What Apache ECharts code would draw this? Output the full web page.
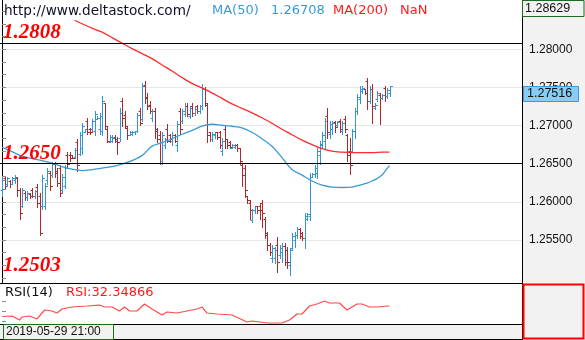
<!DOCTYPE html>
<html>
<head>
<meta charset="utf-8">
<script src="https://cdn.jsdelivr.net/npm/echarts@6/dist/echarts.min.js"></script>
<style>
  html, body { margin: 0; padding: 0; background: #f2f2f2; }
  #chart { width: 585px; height: 340px; }
</style>
</head>
<body>
<div id="chart"></div>
<script>
// GBP/USD style OHLC bars, one entry per bar (index = bar number)
const opens = [
  1.2615,1.2631,1.2624,1.2627,1.2624,1.2628,1.2631,1.2615,1.2595,1.2612,
  1.2606,1.2610,1.2616,1.2607,1.2620,1.2608,1.2595,1.2595,1.2628,1.2638,
  1.2635,1.2649,1.2641,1.2644,1.2615,1.2621,1.2661,1.2662,1.2661,1.2659,
  1.2678,1.2663,1.2670,1.2692,1.2706,1.2696,1.2696,1.2693,1.2709,1.2696,
  1.2693,1.2729,1.2696,1.2679,1.2680,1.2685,1.2683,1.2684,1.2732,1.2714,
  1.2697,1.2688,1.2689,1.2691,1.2693,1.2719,1.2709,1.2753,1.2738,1.2727,
  1.2710,1.2719,1.2695,1.2687,1.2654,1.2674,1.2696,1.2687,1.2680,1.2688,
  1.2674,1.2719,1.2706,1.2715,1.2726,1.2713,1.2725,1.2717,1.2725,1.2719,
  1.2725,1.2748,1.2727,1.2691,1.2683,1.2687,1.2691,1.2691,1.2667,1.2696,
  1.2682,1.2679,1.2671,1.2672,1.2675,1.2670,1.2648,1.2644,1.2607,1.2599,
  1.2576,1.2589,1.2594,1.2595,1.2598,1.2578,1.2557,1.2543,1.2526,1.2526,
  1.2543,1.2530,1.2534,1.2542,1.2537,1.2517,1.2539,1.2550,1.2556,1.2564,
  1.2559,1.2552,1.2578,1.2582,1.2633,1.2636,1.2638,1.2661,1.2674,1.2680,
  1.2713,1.2689,1.2696,1.2705,1.2701,1.2706,1.2693,1.2709,1.2687,1.2667,
  1.2667,1.2693,1.2719,1.2735,1.2745,1.2748,1.2759,1.2732,1.2748,1.2723,
  1.2735,1.2740,1.2736,1.2749,1.2739,1.2743
];
const highs = [
  1.2632,1.2633,1.2632,1.2628,1.2632,1.2635,1.2632,1.2618,1.2618,1.2614,
  1.2614,1.2611,1.2618,1.2615,1.2624,1.2611,1.2635,1.2625,1.2644,1.2641,
  1.2652,1.2652,1.2644,1.2648,1.2637,1.2648,1.2665,1.2665,1.2661,1.2671,
  1.2683,1.2691,1.2704,1.2696,1.2710,1.2697,1.2709,1.2719,1.2712,1.2717,
  1.2739,1.2730,1.2700,1.2687,1.2687,1.2687,1.2685,1.2723,1.2736,1.2719,
  1.2700,1.2693,1.2693,1.2693,1.2717,1.2723,1.2756,1.2759,1.2743,1.2732,
  1.2722,1.2723,1.2697,1.2693,1.2691,1.2684,1.2702,1.2689,1.2691,1.2689,
  1.2706,1.2723,1.2722,1.2729,1.2729,1.2725,1.2729,1.2725,1.2727,1.2727,
  1.2755,1.2751,1.2730,1.2692,1.2692,1.2692,1.2692,1.2693,1.2684,1.2700,
  1.2683,1.2680,1.2676,1.2676,1.2676,1.2671,1.2650,1.2648,1.2608,1.2602,
  1.2591,1.2595,1.2595,1.2598,1.2602,1.2580,1.2560,1.2546,1.2543,1.2541,
  1.2554,1.2543,1.2546,1.2546,1.2541,1.2539,1.2559,1.2560,1.2567,1.2566,
  1.2560,1.2585,1.2585,1.2638,1.2638,1.2648,1.2671,1.2680,1.2691,1.2710,
  1.2723,1.2706,1.2706,1.2706,1.2706,1.2709,1.2706,1.2713,1.2689,1.2684,
  1.2696,1.2723,1.2742,1.2752,1.2752,1.2748,1.2763,1.2752,1.2755,1.2729,
  1.2745,1.2743,1.2742,1.2752,1.2749,1.2752
];
const lows = [
  1.2608,1.2618,1.2621,1.2620,1.2623,1.2625,1.2608,1.2578,1.2593,1.2603,
  1.2603,1.2605,1.2606,1.2605,1.2593,1.2556,1.2591,1.2591,1.2623,1.2615,
  1.2632,1.2632,1.2621,1.2608,1.2611,1.2618,1.2645,1.2654,1.2657,1.2658,
  1.2641,1.2661,1.2663,1.2691,1.2689,1.2689,1.2693,1.2687,1.2708,1.2689,
  1.2687,1.2696,1.2678,1.2678,1.2679,1.2679,1.2663,1.2680,1.2700,1.2697,
  1.2683,1.2687,1.2688,1.2689,1.2691,1.2701,1.2706,1.2729,1.2722,1.2717,
  1.2706,1.2684,1.2678,1.2650,1.2650,1.2671,1.2678,1.2678,1.2674,1.2678,
  1.2667,1.2689,1.2704,1.2713,1.2713,1.2710,1.2712,1.2714,1.2717,1.2717,
  1.2722,1.2726,1.2678,1.2680,1.2680,1.2684,1.2683,1.2671,1.2661,1.2670,
  1.2671,1.2670,1.2670,1.2671,1.2667,1.2650,1.2621,1.2606,1.2598,1.2578,
  1.2573,1.2586,1.2586,1.2578,1.2567,1.2552,1.2537,1.2530,1.2521,1.2520,
  1.2508,1.2526,1.2521,1.2517,1.2513,1.2504,1.2537,1.2541,1.2552,1.2552,
  1.2550,1.2539,1.2576,1.2576,1.2632,1.2632,1.2631,1.2650,1.2671,1.2671,
  1.2684,1.2684,1.2689,1.2691,1.2700,1.2691,1.2689,1.2691,1.2654,1.2637,
  1.2665,1.2684,1.2715,1.2729,1.2743,1.2742,1.2722,1.2730,1.2704,1.2722,
  1.2732,1.2702,1.2735,1.2732,1.2736,1.2739
];
const closes = [
  1.2628,1.2621,1.2631,1.2623,1.2631,1.2632,1.2615,1.2585,1.2615,1.2606,
  1.2612,1.2607,1.2608,1.2614,1.2598,1.2559,1.2631,1.2621,1.2641,1.2621,
  1.2649,1.2638,1.2625,1.2612,1.2633,1.2644,1.2650,1.2657,1.2658,1.2668,
  1.2648,1.2687,1.2700,1.2695,1.2692,1.2691,1.2706,1.2715,1.2710,1.2713,
  1.2732,1.2700,1.2680,1.2685,1.2684,1.2680,1.2679,1.2717,1.2710,1.2700,
  1.2688,1.2692,1.2692,1.2693,1.2714,1.2704,1.2752,1.2736,1.2726,1.2719,
  1.2719,1.2693,1.2683,1.2654,1.2687,1.2683,1.2680,1.2682,1.2688,1.2680,
  1.2702,1.2696,1.2719,1.2726,1.2715,1.2723,1.2717,1.2722,1.2719,1.2725,
  1.2748,1.2729,1.2687,1.2683,1.2689,1.2691,1.2685,1.2674,1.2680,1.2683,
  1.2675,1.2672,1.2675,1.2675,1.2670,1.2654,1.2635,1.2615,1.2602,1.2589,
  1.2589,1.2594,1.2589,1.2589,1.2586,1.2559,1.2543,1.2534,1.2539,1.2537,
  1.2521,1.2539,1.2542,1.2521,1.2521,1.2537,1.2555,1.2557,1.2564,1.2555,
  1.2552,1.2581,1.2584,1.2633,1.2637,1.2645,1.2667,1.2676,1.2687,1.2706,
  1.2691,1.2702,1.2704,1.2698,1.2705,1.2696,1.2704,1.2696,1.2661,1.2648,
  1.2693,1.2719,1.2738,1.2748,1.2749,1.2743,1.2732,1.2748,1.2726,1.2727,
  1.2743,1.2736,1.2740,1.2739,1.2747,1.27516
];

// Moving averages, [bar index, value]
const ma50 = [
  [0,1.26716],[4,1.26658],[8,1.26599],[12,1.26566],[16,1.26540],[20,1.26508],
  [24,1.26462],[28,1.26429],[32,1.26410],[36,1.26423],[40,1.26442],[44,1.26462],
  [48,1.26495],[52,1.26540],[56,1.26606],[60,1.26730],[64,1.26775],[68,1.26827],
  [72,1.26886],[76,1.26938],[80,1.26991],[84,1.27017],[88,1.27004],[92,1.26991],
  [96,1.26971],[100,1.26912],[104,1.26827],[108,1.26730],[112,1.26579],[116,1.26423],
  [120,1.26351],[124,1.26273],[128,1.26220],[132,1.26194],[136,1.26188],[140,1.26194],
  [144,1.26227],[146,1.26246],[148,1.26273],[150,1.26305],[152,1.26351],[154,1.26436],
  [155,1.26475]
];
const ma200 = [
  [29,1.28381],[32,1.28335],[36,1.28277],[40,1.28224],[44,1.28153],[48,1.28081],
  [52,1.28009],[56,1.27944],[60,1.27878],[64,1.27794],[68,1.27715],[72,1.27630],
  [76,1.27552],[80,1.27493],[84,1.27428],[88,1.27356],[92,1.27284],[96,1.27226],
  [100,1.27167],[104,1.27102],[108,1.27030],[112,1.26951],[116,1.26880],[120,1.26808],
  [124,1.26749],[128,1.26697],[132,1.26664],[136,1.26651],[140,1.26645],[144,1.26645],
  [148,1.26645],[152,1.26651],[155,1.26651]
];
// RSI(14), [bar index, value]
const rsi14 = [
  [0,39.4],[4,40.4],[7,32.6],[8,38.4],[11,40.4],[14,34.6],[16,46.2],[17,52.0],
  [20,50.1],[22,46.2],[24,54.0],[28,57.9],[34,59.8],[39,61.7],[41,57.9],[44,57.9],
  [47,50.1],[49,57.9],[51,50.1],[54,50.1],[57,63.7],[60,54.0],[64,42.3],[66,48.2],
  [70,46.2],[74,50.1],[78,54.0],[80,57.9],[82,46.2],[86,44.3],[92,42.3],[98,28.7],
  [100,30.7],[106,26.8],[110,26.8],[112,26.8],[115,32.6],[118,44.3],[120,44.3],
  [123,59.8],[126,63.7],[129,69.5],[131,65.6],[135,65.6],[138,52.0],[142,63.7],
  [144,63.7],[147,57.9],[150,57.9],[154,59.8],[155,59.8]
];

// Price axis labels, support/resistance levels and RSI guide ticks
const priceTicks = [1.255, 1.260, 1.265, 1.270, 1.275, 1.280];
const levels = [1.2808, 1.2650, 1.2503];
const levelLines = [1.2808, 1.2650];
const rsiTicks = [30, 50, 70];
const headerText = 'http://www.deltastock.com/';
const ma50Label = 'MA(50)', ma50Value = '1.26708';
const ma200Label = 'MA(200)', ma200Value = 'NaN';
const rsiLabel = 'RSI(14)', rsiValue = 'RSI:32.34866';
const scaleTopLabel = '1.28629';
const startDate = '2019-05-29 21:00';

const PLOT_W = 522;
const X_MIN = -0.8, X_MAX = 208;
const UP = '#3395d4', DOWN = '#b0282a';
const MA50_C = '#3b9ad6', MA200_C = '#ff2a2a', RSI_C = '#ff4a4a';
const priceMin = 1.24936, priceMax = 1.28646;

// minor ticks: thirds of each 0.005 step
const priceTickMarks = [];
for (let k = 0; k <= 21; k++) {
  const v = 1.25 + k * 0.005 / 3;
  if (v > priceMin && v < priceMax) priceTickMarks.push(+v.toFixed(6));
}

const bars = opens.map((o, i) => [i, o, highs[i], lows[i], closes[i]]);

function renderBar(params, api) {
  const i = api.value(0);
  const o = api.value(1), h = api.value(2), l = api.value(3), c = api.value(4);
  const pH = api.coord([i, h]), pL = api.coord([i, l]);
  const pO = api.coord([i, o]), pC = api.coord([i, c]);
  const x = Math.round(pH[0]) + 0.5;
  const color = c >= o ? UP : DOWN;
  const style = { stroke: color, lineWidth: 1, fill: null };
  const yo = Math.round(pO[1]) + 0.5, yc = Math.round(pC[1]) + 0.5;
  return {
    type: 'group',
    children: [
      { type: 'line', shape: { x1: x, y1: Math.round(pH[1]), x2: x, y2: Math.round(pL[1]) + 1 }, style },
      { type: 'line', shape: { x1: x - 2, y1: yo, x2: x, y2: yo }, style },
      { type: 'line', shape: { x1: x, y1: yc, x2: x + 2.5, y2: yc }, style }
    ]
  };
}

const chart = echarts.init(document.getElementById('chart'), null, { renderer: 'canvas' });

const axisFont = { fontFamily: 'Liberation Sans', fontSize: 12, color: '#111' };

chart.setOption({
  animation: false,
  backgroundColor: '#f2f2f2',
  grid: [
    { left: 0, top: 0, width: PLOT_W, height: 283, show: true, backgroundColor: '#ffffff', borderWidth: 0 },
    { left: 0, top: 283, width: PLOT_W, height: 41, show: true, backgroundColor: '#ffffff', borderWidth: 0 }
  ],
  xAxis: [
    { gridIndex: 0, type: 'value', min: X_MIN, max: X_MAX, show: false },
    { gridIndex: 1, type: 'value', min: X_MIN, max: X_MAX, show: false }
  ],
  yAxis: [
    {
      gridIndex: 0, type: 'value', position: 'right', min: priceMin, max: priceMax,
      axisLine: { show: true, lineStyle: { color: '#000', width: 1 } },
      axisTick: { show: true, length: 4, lineStyle: { color: '#8a8a8a' }, customValues: priceTickMarks },
      axisLabel: Object.assign({ customValues: priceTicks, margin: 7, formatter: v => v.toFixed(5) }, axisFont),
      splitLine: { show: false }
    },
    {
      gridIndex: 0, type: 'value', position: 'left', min: priceMin, max: priceMax,
      axisLine: { show: false }, axisLabel: { show: false },
      axisTick: { show: false, customValues: priceTicks },
      splitLine: { show: true, lineStyle: { color: '#e8e8e8', width: 1 } }
    },
    {
      gridIndex: 1, type: 'value', position: 'right', min: 24.85, max: 104.5,
      axisLine: { show: false }, axisLabel: { show: false },
      axisTick: { show: true, length: 4, lineStyle: { color: '#8a8a8a' }, customValues: rsiTicks },
      splitLine: { show: false }
    }
  ],
  series: [
    {
      type: 'custom', name: 'GBPUSD', xAxisIndex: 0, yAxisIndex: 0,
      renderItem: renderBar, data: bars, encode: { x: 0, y: [1, 2, 3, 4] },
      z: 3
    },
    {
      type: 'line', name: ma50Label, xAxisIndex: 0, yAxisIndex: 0, data: ma50,
      showSymbol: false, smooth: 0.35, z: 4,
      lineStyle: { color: MA50_C, width: 1.3 }
    },
    {
      type: 'line', name: ma200Label, xAxisIndex: 0, yAxisIndex: 0, data: ma200,
      showSymbol: false, smooth: 0.35, z: 4,
      lineStyle: { color: MA200_C, width: 1.3 }
    },
    {
      type: 'line', name: rsiLabel, xAxisIndex: 1, yAxisIndex: 2, data: rsi14,
      showSymbol: false, smooth: false, z: 4,
      lineStyle: { color: RSI_C, width: 1.2 }
    }
  ]
});

// overlay texts, price boxes, level lines and panel frames
const lastIdx = closes.length - 1;
const toY = v => chart.convertToPixel({ gridIndex: 0 }, [0, v])[1];
const lastY = toY(closes[lastIdx]);
const levelY = levels.map(toY);

const hdrFont = { fontFamily: 'DejaVu Sans', fontSize: 13 };
const txt = (x, y, text, fill, font, extra) => ({
  type: 'text', x, y, z: 100,
  style: Object.assign({ text, fill, verticalAlign: 'middle', align: 'left' }, font, extra || {})
});
const hline = (x1, x2, y, color, w) => ({
  type: 'line', z: 90, shape: { x1, y1: y, x2, y2: y }, style: { stroke: color, lineWidth: w || 1 }
});
const vline = (x, y1, y2, color, w) => ({
  type: 'line', z: 90, shape: { x1: x, y1, x2: x, y2 }, style: { stroke: color, lineWidth: w || 1 }
});

const elements = [
  txt(4, 11, headerText, '#10102a', { fontFamily: 'DejaVu Sans', fontSize: 13.6 }),
  txt(212, 10.5, ma50Label, MA50_C, hdrFont),
  txt(271, 10.5, ma50Value, MA50_C, hdrFont),
  txt(333, 10.5, ma200Label, '#ff1a1a', hdrFont),
  txt(400, 10.5, ma200Value, '#ff1a1a', hdrFont),
  txt(5, 292.5, rsiLabel, '#111', hdrFont),
  txt(66, 292.5, rsiValue, '#ff1a1a', hdrFont),
  // frames
  vline(522.5, 0, 340, '#000'),
  hline(0, 522, 283.5, '#000'),
  hline(0, 522, 324.5, '#000'),
  hline(0, 522, 339.5, '#000'),
  // scale top box
  { type: 'rect', z: 95, shape: { x: 522.5, y: 0.5, width: 61.5, height: 16 },
    style: { fill: '#f2f2f2', stroke: '#1d6b1d', lineWidth: 1 } },
  txt(525, 8.5, scaleTopLabel, '#111', { fontFamily: 'Liberation Sans', fontSize: 12.5 }),
  // last price box
  { type: 'rect', z: 95, shape: { x: 523.5, y: Math.round(lastY) + 0.5, width: 55, height: 15 },
    style: { fill: '#87cdf5', stroke: '#3a9ad8', lineWidth: 1 } },
  txt(527, Math.round(lastY) + 8, closes[lastIdx].toFixed(5), '#111', { fontFamily: 'Liberation Sans', fontSize: 12.5 }),
  // RSI scale box
  { type: 'rect', z: 95, shape: { x: 523.5, y: 284.5, width: 60, height: 54 },
    style: { fill: null, stroke: '#ff0000', lineWidth: 2 } },
  // date box
  { type: 'rect', z: 95, shape: { x: 3.5, y: 324.5, width: 110, height: 15 },
    style: { fill: '#f2f2f2', stroke: '#1d6b1d', lineWidth: 1 } },
  txt(6, 332, startDate, '#111', { fontFamily: 'Liberation Sans', fontSize: 12 })
];
// support/resistance lines, snapped to whole pixels
levelLines.forEach(v => {
  const y = Math.floor(toY(v)) + 0.5;
  elements.push(Object.assign(hline(0, PLOT_W, y, '#000'), { z: 5 }));
});
levels.forEach((v, k) => {
  elements.push(txt(3, levelY[k] - 10.5, v.toFixed(4), '#ff0000',
    { fontFamily: 'Liberation Serif', fontSize: 21, fontWeight: 'bold', fontStyle: 'italic' }));
});

chart.setOption({ graphic: { elements } });
</script>
</body>
</html>
